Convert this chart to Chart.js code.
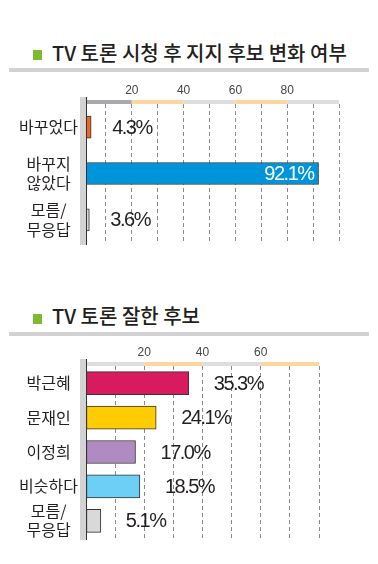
<!DOCTYPE html>
<html>
<head>
<meta charset="utf-8">
<script src="https://cdn.jsdelivr.net/npm/chart.js@4"></script>
<style>
  body { margin: 0; background: #fff; width: 378px; height: 564px; position: relative; overflow: hidden;
         font-family: "Noto Sans CJK KR", sans-serif; }
  .title { position: absolute; left: 52px; font-size: 20px; font-weight: 500; color: #231f20; white-space: nowrap; line-height: 1; }
  .sq { position: absolute; left: 33px; width: 9px; height: 10px; background: #7dbb2e; }
  .rule { position: absolute; left: 9px; width: 360px; height: 4px; background: #d2d2d2; }
  .box { position: absolute; left: 0; width: 378px; }
</style>
</head>
<body>
<div class="sq" style="top:50px"></div>
<div class="title" style="top:43px">TV 토론 시청 후 지지 후보 변화 여부</div>
<div class="rule" style="top:68px"></div>
<div class="box" style="top:80px;height:165px"><canvas id="c1"></canvas></div>

<div class="sq" style="top:314px"></div>
<div class="title" style="top:306px">TV 토론 잘한 후보</div>
<div class="rule" style="top:332px"></div>
<div class="box" style="top:340px;height:200px"><canvas id="c2"></canvas></div>

<script>
// chart 1: 지지 후보 변화 여부
const changeLabels = [["바꾸었다"], ["바꾸지", "않았다"], ["모름/", "무응답"]];
const changeValues = [4.3, 92.1, 3.6];
const changeColors = ["#f26522", "#0095da", "#d9d9d9"];
const changeTicks = [20, 40, 60, 80];

// chart 2: 잘한 후보
const candLabels = ["박근혜", "문재인", "이정희", "비슷하다", ["모름/", "무응답"]];
const candValues = [35.3, 24.1, 17.0, 18.5, 5.1];
const candColors = ["#d81b5e", "#ffcc00", "#b08bc2", "#6dcff6", "#d9d9d9"];
const candTicks = [20, 40, 60];

const KR = '"Noto Sans CJK KR", sans-serif';
const NUM = '"Liberation Sans", sans-serif';

// grey side band, dark axis line and the striped band on top
const frame = {
  id: "frame",
  afterDatasetsDraw(chart, args, opts) {
    const { ctx, chartArea: a, scales: { x } } = chart;
    const lineX = Math.round(x.getPixelForValue(0)) + opts.shift;
    ctx.save();
    ctx.fillStyle = "#d3d3d3";
    ctx.fillRect(lineX - 6, a.top - 7, 6, a.bottom - a.top + 9);
    opts.stripes.forEach((c, i) => {
      const x0 = Math.max(lineX, x.getPixelForValue(i * 20));
      const x1 = x.getPixelForValue((i + 1) * 20);
      ctx.fillStyle = c;
      ctx.fillRect(x0, a.top - 4, x1 - x0, 4);
    });
    ctx.fillStyle = "#333";
    ctx.fillRect(lineX, a.top - 7, 1, a.bottom - a.top + 9);
    ctx.restore();
  }
};

// percentage labels next to / inside the bars
const valueLabels = {
  id: "valueLabels",
  afterDatasetsDraw(chart, args, opts) {
    const { ctx } = chart;
    const ds = chart.data.datasets[0];
    ctx.save();
    ctx.font = "20px " + NUM;
    ctx.letterSpacing = "-1.5px";
    ctx.textBaseline = "middle";
    chart.getDatasetMeta(0).data.forEach((bar, i) => {
      const v = ds.data[i];
      const txt = v.toFixed(1) + "%";
      if (v > 80) {
        ctx.fillStyle = "#fff";
        ctx.textAlign = "right";
        ctx.fillText(txt, bar.x - 5, bar.y + 1);
      } else {
        ctx.fillStyle = "#231f20";
        ctx.textAlign = "left";
        ctx.fillText(txt, bar.x + opts.gap, bar.y + 1);
      }
    });
    ctx.restore();
  }
};

function makeChart(id, labels, values, colors, shown, max, cfg) {
  return new Chart(document.getElementById(id), {
    type: "bar",
    data: {
      labels: labels,
      datasets: [{
        data: values,
        backgroundColor: colors,
        borderColor: "#333",
        borderWidth: 1,
        borderSkipped: false,
        barThickness: cfg.thickness,
      }],
    },
    options: {
      indexAxis: "y",
      responsive: true,
      maintainAspectRatio: false,
      animation: false,
      layout: { padding: cfg.padding },
      plugins: {
        legend: { display: false },
        tooltip: { enabled: false },
        frame: { shift: cfg.shift, stripes: cfg.stripes },
        valueLabels: { gap: cfg.gap },
      },
      scales: {
        x: {
          position: "top",
          min: 0,
          max: max,
          afterFit: (s) => { s.height = cfg.axisHeight; },
          ticks: {
            stepSize: 10,
            autoSkip: false,
            maxRotation: 0,
            padding: 6,
            color: "#444",
            font: { family: '"Liberation Sans", sans-serif', size: 12 },
            callback: (v) => (shown.includes(v) ? v : ""),
          },
          grid: {
            drawTicks: false,
            lineWidth: 1,
            color: (c) => (c.tick && c.tick.value === 0 ? "rgba(0,0,0,0)" : "#8a8a8a"),
          },
          border: { display: false, dash: [4, 3] },
        },
        y: {
          afterFit: (s) => { s.width = 70; s.paddingTop = 0; s.paddingBottom = 0; },
          ticks: {
            autoSkip: false,
            crossAlign: "center",
            padding: cfg.labelPad,
            color: "#231f20",
            font: { family: KR, size: 16, lineHeight: 1.2 },
          },
          grid: { display: false, drawTicks: false },
          border: { display: false },
        },
      },
    },
    plugins: [frame, valueLabels],
  });
}

makeChart("c1", changeLabels, changeValues, changeColors, changeTicks, 100, {
  thickness: 22,
  padding: { left: 10, right: 39, top: 0, bottom: 2 },
  axisHeight: 24,
  shift: 6,
  gap: 21,
  labelPad: 2,
  stripes: ["#a7a9ac", "#fcd5a0", "#dcdddf", "#fcd5a0", "#dcdddf"],
});

makeChart("c2", candLabels, candValues, candColors, candTicks, 80, {
  thickness: 23,
  padding: { left: 16, right: 59, top: 0, bottom: 2 },
  axisHeight: 26,
  shift: 0,
  gap: 25,
  labelPad: 8,
  stripes: ["#dcdddf", "#fcd5a0", "#dcdddf", "#fcd5a0"],
});
</script>
</body>
</html>
